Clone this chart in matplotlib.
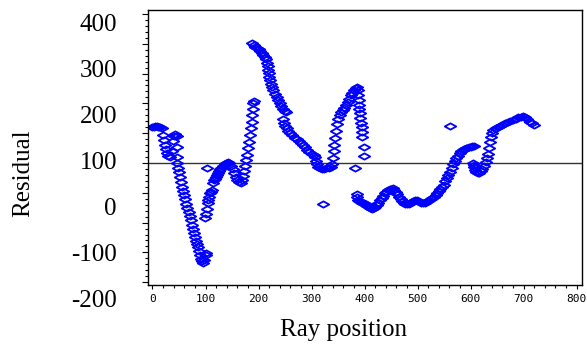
import matplotlib
matplotlib.use('Agg')
import matplotlib.pyplot as plt
import matplotlib.transforms as mtransforms
from matplotlib.path import Path
import numpy as np

# residual vs ray position
start_x = [0, 3, 5, 8, 10, 13, 15, 18, 20, 22, 24, 26, 28, 30, 33,
           36, 38, 40, 43, 46, 46, 46]
start_y = [178, 179, 180, 180, 179, 178, 178, 175, 160, 150, 140, 130, 122, 115, 112,
           125, 148, 158, 162, 158, 135, 112]

dip_x = [46, 48, 50, 52, 54, 56, 58, 60, 62, 64, 66, 68, 70, 72, 74, 76,
         78, 80, 82, 84, 86, 88, 90, 92, 94, 96, 98, 100, 101]
dip_y = [100, 90, 80, 70, 59, 48, 39, 30, 21, 11, 2, -6, -15, -24, -34, -44,
         -53, -61, -69, -76, -83, -92, -100, -108, -114, -117, -110, -100, -95]

rise_x = [99, 101, 102, 104, 105, 107, 108, 110, 112, 114, 116, 118, 120, 122,
          124, 126, 128, 130, 133, 136, 139, 142, 145, 148, 151, 154, 157, 160,
          163, 166, 168, 170, 172, 174, 176, 178, 180, 182, 184, 186, 187, 188,
          189, 190, 191]
rise_y = [-20, -10, 1, 13, 20, 27, 34, 38, 41, 56, 62, 66, 70, 74,
          78, 82, 86, 89, 93, 97, 100, 102, 99, 93, 86, 78, 70, 63,
          58, 56, 62, 72, 82, 94, 106, 118, 132, 146, 160, 176, 190, 205,
          218, 230, 235]

peak_x = [188, 191, 194, 197, 200, 203, 206, 209, 212, 214, 216, 217, 218, 219,
          220, 222, 224, 226, 228, 231, 234, 237, 240, 243, 246, 249, 251, 247,
          248, 250, 253, 256, 260, 264, 268, 272, 276, 280, 284, 288, 292, 296,
          300, 304, 307, 309, 310, 312, 316, 320, 324, 328, 332, 336, 339, 341,
          342, 343, 344, 346, 348, 350, 353, 356, 359, 362, 365, 368, 371, 374,
          377, 380, 383, 385]
peak_y = [360, 356, 352, 349, 347, 344, 340, 335, 330, 325, 318, 310, 302, 295,
          288, 280, 272, 265, 258, 251, 244, 237, 230, 224, 218, 213, 210, 195,
          188, 181, 175, 170, 165, 160, 155, 152, 148, 144, 140, 135, 129, 124,
          120, 117, 113, 105, 97, 91, 89, 88, 88, 89, 90, 92, 97, 110,
          125, 140, 155, 170, 185, 196, 204, 210, 215, 220, 226, 233, 240, 247,
          253, 259, 264, 266]

drop_x = [388, 388, 390, 390, 390, 391, 391, 393, 395, 395, 396, 398, 398]
drop_y = [259, 248, 237, 226, 217, 208, 197, 186, 178, 168, 157, 135, 115]

low_x = [385, 386, 388, 390, 393, 396, 399, 402, 405, 408, 411, 414, 417, 420,
         423, 426, 429, 432, 435, 438, 441, 444, 447, 450, 453, 456, 459, 462,
         465, 468, 471, 474, 477, 480, 483, 486, 489, 492, 495, 498, 501, 504,
         507, 510, 513, 516, 519, 522, 525, 528, 531, 534, 537, 540, 543, 546,
         549, 552, 555, 558, 561, 564, 567, 570, 573, 576, 579, 582, 585, 588,
         591, 594, 597, 600, 603, 606]
low_y = [32, 25, 20, 17, 15, 14, 12, 10, 7, 4, 2, 1, 2, 5,
         9, 14, 19, 24, 29, 34, 38, 41, 43, 44, 45, 42, 38, 33,
         27, 22, 17, 13, 11, 10, 11, 13, 15, 17, 19, 20, 18, 15,
         13, 12, 13, 15, 17, 19, 21, 24, 27, 31, 35, 39, 43, 47,
         53, 60, 67, 74, 81, 89, 97, 104, 110, 116, 121, 125, 128, 130,
         132, 133, 134, 135, 136, 136]

end_x = [604, 606, 606, 608, 610, 613, 616, 619, 622, 625, 628, 630, 632, 634,
         636, 638, 640, 643, 647, 651, 655, 660, 665, 670, 675, 680, 685, 690,
         695, 699, 703, 707, 711, 715, 719]
end_y = [100, 95, 92, 84, 80, 78, 79, 82, 87, 93, 102, 110, 120, 132,
         145, 157, 166, 172, 175, 178, 180, 183, 186, 189, 192, 194, 196, 199,
         201, 202, 199, 195, 190, 186, 182]

stray_x = [103, 322, 382, 561]
stray_y = [89, 11, 89, 180]

y_labels = [400, 300, 200, 100, 0, -100, -200]
x_ticks = [0, 100, 200, 300, 400, 500, 600, 700, 800]
baseline = 100

xs = np.concatenate([start_x, dip_x, rise_x, peak_x, drop_x, low_x, end_x, stray_x])
ys = np.concatenate([start_y, dip_y, rise_y, peak_y, drop_y, low_y, end_y, stray_y])

diamond = Path([(-1, 0), (0, 0.55), (1, 0), (0, -0.55), (-1, 0)],
               [Path.MOVETO, Path.LINETO, Path.LINETO, Path.LINETO, Path.CLOSEPOLY])

fig = plt.figure(figsize=(5.87, 3.47), dpi=100)
ax = fig.add_axes([0.2521, 0.1787, 0.7394, 0.7925])

ax.plot(xs, ys, linestyle='none', marker=diamond, markersize=8.2,
        markerfacecolor='none', markeredgecolor='#0000ff', markeredgewidth=1.3)
ax.axhline(baseline, color='#333333', linewidth=1.0, zorder=0)

ax.set_xlim(-8.5, 810)
ax.set_ylim(-165.2, 432.6)

# tick marks on the left follow the inner scale, labels are placed separately
step = 64.8
ax.set_yticks([baseline + step * k for k in range(-4, 6)])
ax.set_yticks([baseline + step / 5 * k for k in range(-20, 26)], minor=True)
ax.tick_params(axis='y', which='major', length=4, width=0.8, labelleft=False)
ax.tick_params(axis='y', which='minor', length=2.5, width=0.8)

ax.set_xticks(x_ticks)
ax.set_xticks(np.arange(0, 801, 20), minor=True)
ax.tick_params(axis='x', which='major', length=2.7, width=0.8, pad=4)
ax.tick_params(axis='x', which='minor', length=2, width=0.8)
for lab in ax.get_xticklabels():
    lab.set_fontfamily('DejaVu Sans Mono')
    lab.set_fontsize(8)

trans = mtransforms.blended_transform_factory(ax.transAxes, ax.transData)
for v in y_labels:
    ax.text(-0.0714, v, str(v), transform=trans, ha='right', va='center',
            fontsize=18, family='Liberation Serif', clip_on=False)

fig.text(23 / 587, 1 - 173 / 347, 'Residual', rotation=90, ha='center',
         va='center', fontsize=18, family='Liberation Serif')
fig.text(343 / 587, 1 - 330 / 347, 'Ray position', ha='center', va='center',
         fontsize=18, family='Liberation Serif')

for s in ax.spines.values():
    s.set_linewidth(1.0)

plt.savefig('out.png', dpi=100)
plt.close(fig)
